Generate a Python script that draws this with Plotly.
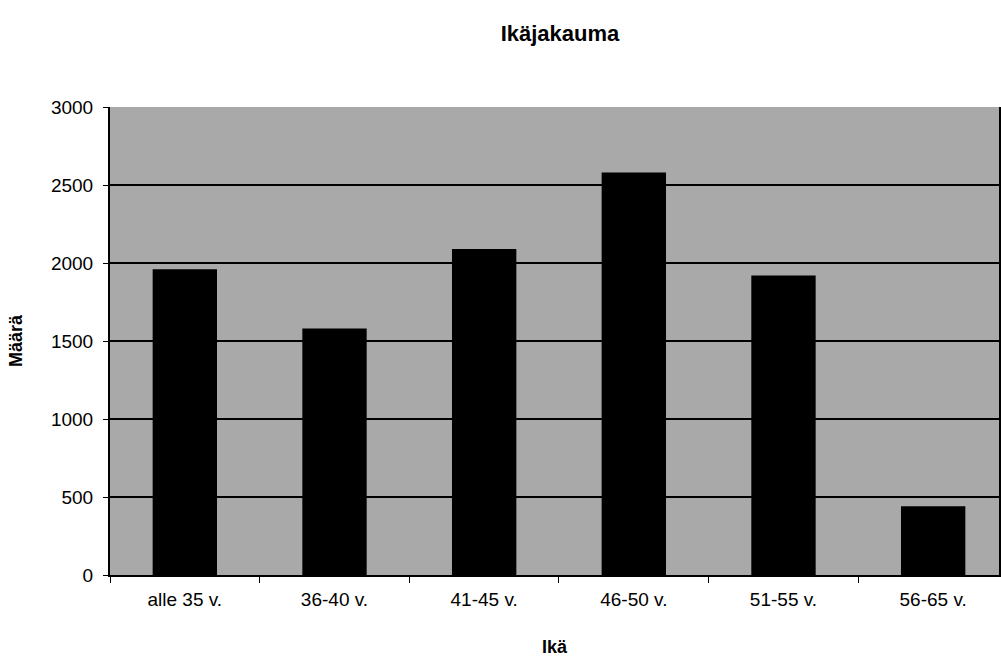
import plotly.graph_objects as go

# Age distribution counts
categories = ["alle 35 v.", "36-40 v.", "41-45 v.", "46-50 v.", "51-55 v.", "56-65 v."]
counts = [1960, 1580, 2090, 2580, 1920, 440]
y_ticks = [0, 500, 1000, 1500, 2000, 2500, 3000]

FONT = "Liberation Sans, Arial, sans-serif"

fig = go.Figure(
    go.Bar(
        x=categories,
        y=counts,
        marker=dict(color="#000000", line=dict(width=0)),
        width=0.43,
    )
)

fig.update_layout(
    width=1001,
    height=657,
    margin=dict(l=110, r=0, t=107, b=82),
    paper_bgcolor="white",
    plot_bgcolor="#a9a9a9",
    showlegend=False,
    title=dict(
        text="<b>Ikäjakauma</b>",
        font=dict(family=FONT, size=22, color="black"),
        x=560 / 1001,
        xanchor="center",
        xref="container",
        y=1 - 33 / 657,
        yanchor="middle",
        yref="container",
    ),
    font=dict(family=FONT, color="black"),
)

fig.update_xaxes(
    range=[-0.5, 5.44],
    tickson="boundaries",
    ticks="outside",
    ticklen=6,
    tickcolor="black",
    tickfont=dict(size=19, family=FONT),
    ticklabelstandoff=6,
    showline=True,
    linecolor="black",
    linewidth=2,
    showgrid=False,
    title=dict(text="<b>Ikä</b>", font=dict(size=18, family=FONT), standoff=32),
)

fig.update_yaxes(
    range=[0, 3000],
    tickvals=y_ticks,
    ticks="outside",
    ticklen=5,
    tickcolor="black",
    tickfont=dict(size=19, family=FONT),
    ticklabelstandoff=6,
    showline=True,
    linecolor="black",
    linewidth=2,
    mirror=True,
    showgrid=True,
    gridcolor="black",
    gridwidth=2,
    zeroline=False,
    title=dict(text="<b>Määrä</b>", font=dict(size=18, family=FONT), standoff=24),
)

fig.write_html("out.html")
